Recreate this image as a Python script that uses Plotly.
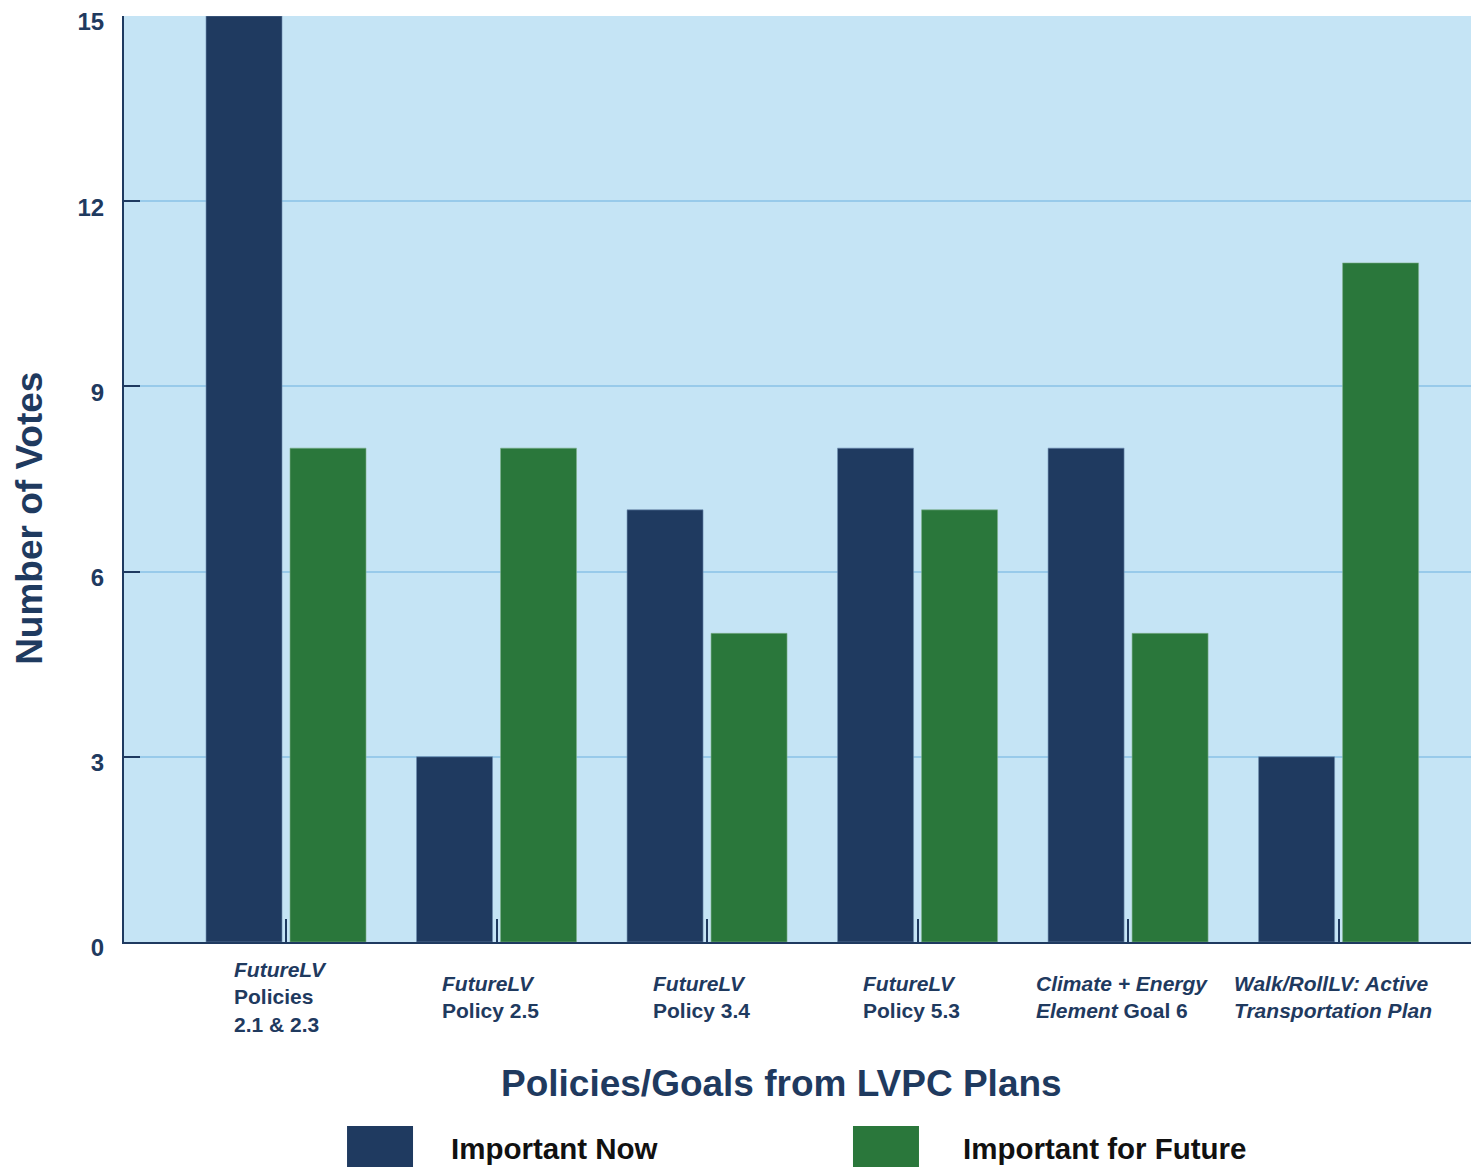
import plotly.graph_objects as go

categories = [
    "<i>FutureLV</i><br>Policies<br>2.1 & 2.3",
    "<i>FutureLV</i><br>Policy 2.5",
    "<i>FutureLV</i><br>Policy 3.4",
    "<i>FutureLV</i><br>Policy 5.3",
    "<i>Climate + Energy</i><br><i>Element</i> Goal 6",
    "<i>Walk/RollLV: Active</i><br><i>Transportation Plan</i>",
]
important_now = [15, 3, 7, 8, 8, 3]
important_future = [8, 8, 5, 7, 5, 11]
series_names = ["Important Now", "Important for Future"]
y_ticks = [0, 3, 6, 9, 12, 15]

NAVY = "#1F3A60"
GREEN = "#2A773B"
TEXT = "#1F3A5F"
BG = "#C5E4F5"
GRID = "#98CAEA"
FONT = "Liberation Sans, Arial, sans-serif"

idx = list(range(len(categories)))

fig = go.Figure()
fig.add_trace(go.Bar(
    x=idx, y=important_now, name=series_names[0],
    marker=dict(color=NAVY, line=dict(color="#6E8DB0", width=0.6)),
    width=0.361, offset=-0.380, showlegend=False,
))
fig.add_trace(go.Bar(
    x=idx, y=important_future, name=series_names[1],
    marker=dict(color=GREEN, line=dict(color="#7FB08C", width=0.6)),
    width=0.361, offset=0.019, showlegend=False,
))

# page body has an 8px margin, so the figure is sized/margined to compensate
fig.update_layout(
    width=1471, height=1159,
    margin=dict(l=116, r=0, t=8, b=225, autoexpand=False),
    paper_bgcolor="white", plot_bgcolor=BG,
    barmode="overlay",
    font=dict(family=FONT, color=TEXT),
)
fig.update_xaxes(
    range=[-0.7696, 5.667], tickvals=idx, showticklabels=False,
    ticks="inside", ticklen=23, tickwidth=2, tickcolor=NAVY,
    showline=True, linecolor=NAVY, linewidth=2, showgrid=False, zeroline=False,
    automargin=False,
)
fig.update_yaxes(
    range=[0, 15], tickvals=y_ticks,
    ticks="inside", ticklen=16, tickwidth=2, tickcolor=NAVY,
    ticklabelstandoff=13, ticklabelshift=6, ticklabeloverflow="allow", automargin=False,
    tickfont=dict(size=24, color=TEXT, family=FONT, weight="bold"),
    showline=True, linecolor=NAVY, linewidth=2,
    showgrid=True, gridcolor=GRID, gridwidth=2, zeroline=False,
)

# plot area is 1355 x 926 px
annotations = []
for i, lab in enumerate(categories):
    annotations.append(dict(
        x=i, xref="x", y=-0.0594, yref="paper", text=lab, showarrow=False,
        xanchor="center", yanchor="middle", align="left", xshift=-6,
        font=dict(size=21, color=TEXT, family=FONT, weight="bold"),
    ))
annotations.append(dict(
    x=-0.0694, xref="paper", y=0.458, yref="paper", text="Number of Votes",
    textangle=-90, showarrow=False, xanchor="center", yanchor="middle",
    font=dict(size=37, color=TEXT, family=FONT, weight="bold"),
))
annotations.append(dict(
    x=0.4856, xref="paper", y=-0.1523, yref="paper", text="Policies/Goals from LVPC Plans",
    showarrow=False, xanchor="center", yanchor="middle",
    font=dict(size=37, color=TEXT, family=FONT, weight="bold"),
))
legend_items = [(series_names[0], NAVY, 0.1646, 0.2133, 0.2399),
                (series_names[1], GREEN, 0.538, 0.5867, 0.6177)]
shapes = []
for name, col, x0, x1, xt in legend_items:
    shapes.append(dict(type="rect", xref="paper", yref="paper", x0=x0, x1=x1,
                       y0=-0.27, y1=-0.1987, fillcolor=col, line=dict(width=0)))
    annotations.append(dict(
        x=xt, xref="paper", y=-0.2225, yref="paper", text=name, showarrow=False,
        xanchor="left", yanchor="middle",
        font=dict(size=29.5, color="#111111", family=FONT, weight="bold"),
    ))
fig.update_layout(annotations=annotations, shapes=shapes)

fig.write_html("out.html")
